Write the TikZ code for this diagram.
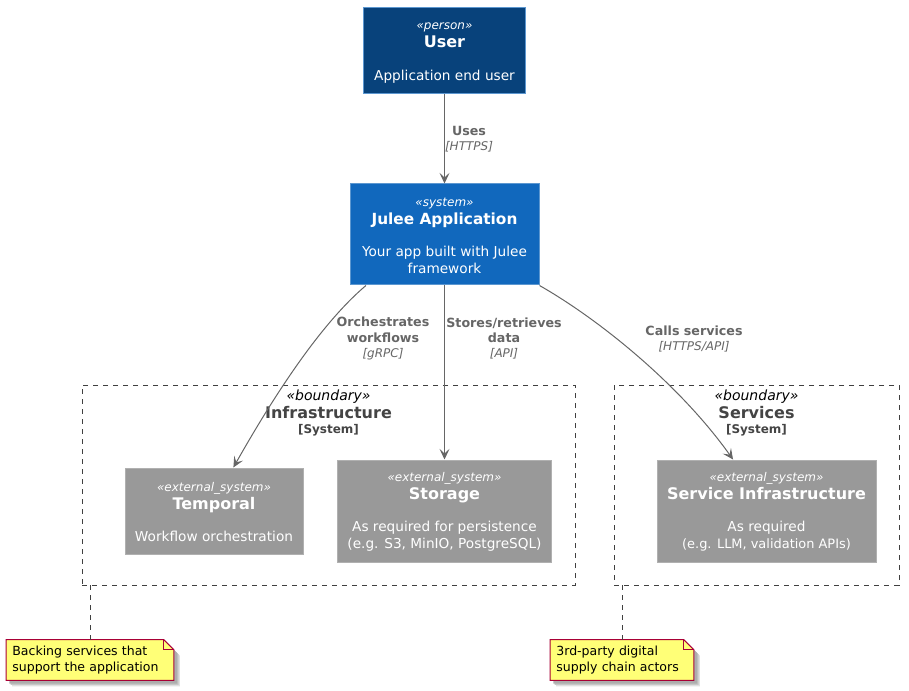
\documentclass[tikz,border=0pt]{standalone}
\usepackage{fontspec}
\setmainfont{DejaVu Sans}
\usetikzlibrary{arrows.meta,backgrounds}
\definecolor{personfill}{HTML}{08427B}
\definecolor{systemfill}{HTML}{1168BD}
\definecolor{boxedge}{HTML}{5C97D0}
\definecolor{extfill}{HTML}{999999}
\definecolor{extedge}{HTML}{B0B0B0}
\definecolor{relcolor}{HTML}{666666}
\definecolor{notefill}{HTML}{FFFF77}
\definecolor{noteedge}{HTML}{A80036}
\definecolor{titlecolor}{HTML}{444444}
\newcommand{\boxtext}[3]{\rule{0pt}{8pt}{\fontsize{9}{11}\selectfont\itshape «#1»}\\[1.25pt]{\fontsize{12}{14}\selectfont\bfseries #2}\\[12pt]#3}
\newcommand{\reltext}[2]{{\bfseries #1}\\{\fontsize{9}{10.5}\selectfont\itshape #2}}
\newcommand{\notepaper}[1]{
\begin{scope}[on background layer]
\foreach \blur/\shade in {4.5/12,3.5/22,2.5/32} {
\fill [black!\shade] ([shift={(\blur pt,-\blur pt)}]#1.north west) -- ([shift={(\blur pt-7.5pt,-\blur pt)}]#1.north east) -- ([shift={(\blur pt,-\blur pt-7.5pt)}]#1.north east) -- ([shift={(\blur pt,-\blur pt)}]#1.south east) -- ([shift={(\blur pt,-\blur pt)}]#1.south west) -- cycle;
}
\draw [noteline,fill=notefill] (#1.north west) -- ([xshift=-7.5pt]#1.north east) -- ([yshift=-7.5pt]#1.north east) -- (#1.south east) -- (#1.south west) -- cycle;
\draw [noteline] ([xshift=-7.5pt]#1.north east) -- ([shift={(-7.5pt,-7.5pt)}]#1.north east) -- ([yshift=-7.5pt]#1.north east);
\end{scope}
}
\tikzset{
  x=0.75pt,y=-0.75pt,
  >={Stealth[length=8pt,width=7.5pt,inset=3.5pt]},
  block/.style={draw,line width=0.75pt,text=white,align=center,inner sep=0pt,font=\fontsize{10.25}{12.25}\selectfont},
  personbox/.style={block,fill=personfill,draw=boxedge,minimum width=121.5pt,minimum height=64.5pt},
  systembox/.style={block,fill=systemfill,draw=boxedge,minimum width=141.75pt,minimum height=75.75pt},
  extbox/.style={block,fill=extfill,draw=extedge},
  boundary/.style={draw=black!75,line width=0.6pt,dash pattern=on 3.75pt off 3.75pt,minimum height=150pt},
  boundarytitle/.style={align=center,inner sep=0pt,text=titlecolor,anchor=north},
  rel/.style={draw=relcolor,line width=0.75pt},
  rellabel/.style={text=relcolor,align=center,inner sep=0pt,font=\fontsize{9.5}{11.5}\selectfont},
  noteline/.style={draw=noteedge,line width=0.75pt},
  notebox/.style={align=left,text width=#1,inner xsep=4.5pt,inner ysep=0pt,minimum height=30pt,font=\fontsize{9.4}{11.5}\selectfont},
  notelink/.style={draw=black!75,line width=0.6pt,dash pattern=on 3.75pt off 3.75pt}
}
\begin{document}
\begin{tikzpicture}
\useasboundingbox (0,0) rectangle (909,691);

\node [boundary,minimum width=369.75pt] (infra) at (328.5,485) {};
\node [boundary,minimum width=213.75pt] (services) at (756.5,485) {};
\node [boundarytitle] (infratitle) at (328.5,390) {{\fontsize{10.5}{12}\selectfont\itshape\color{black} «boundary»}\\[1pt]{\fontsize{12}{14}\selectfont\bfseries Infrastructure}\\[-0.5pt]{\fontsize{9}{11}\selectfont\bfseries [System]}};
\node [boundarytitle] (servicestitle) at (756.5,390) {{\fontsize{10.5}{12}\selectfont\itshape\color{black} «boundary»}\\[1pt]{\fontsize{12}{14}\selectfont\bfseries Services}\\[-0.5pt]{\fontsize{9}{11}\selectfont\bfseries [System]}};

\node [personbox] (user) at (444.5,51) {\boxtext{person}{User}{Application end user}};
\node [systembox] (julee) at (444.5,234.5) {\boxtext{system}{\fontsize{11.5}{14}\selectfont Julee Application}{Your app built with Julee\\framework}};
\node [extbox,minimum width=133.5pt,minimum height=64.5pt] (temporal) at (214,511) {\boxtext{external\_system}{Temporal}{Workflow orchestration}};
\node [extbox,minimum width=160.5pt,minimum height=76.5pt] (storage) at (444.5,511) {\boxtext{external\_system}{Storage}{As required for persistence\\(e.g. S3, MinIO, PostgreSQL)}};
\node [extbox,minimum width=164.25pt,minimum height=76.5pt] (serviceinfra) at (766.5,511) {\boxtext{external\_system}{Service Infrastructure}{As required\\{\fontsize{9.7}{12.25}\selectfont (e.g. LLM, validation APIs)}}};

\draw [->,rel] (user) -- (julee);
\draw [->,rel] (julee.-147) .. controls (325,320) and (280,385) .. (temporal.66);
\draw [->,rel] (julee) -- (storage);
\draw [->,rel] (julee.south east) .. controls (600,320) and (680,385) .. (serviceinfra.123);

\node [rellabel] (useslabel) at (469,139) {\reltext{Uses}{[HTTPS]}};
\node [rellabel] (orchlabel) at (383,338.5) {{\bfseries Orchestrates}\\{\bfseries workflows}\\{\fontsize{9}{10.5}\selectfont\itshape [gRPC]}};
\node [rellabel] (storeslabel) at (504,338.5) {{\bfseries Stores/retrieves}\\{\bfseries data}\\{\fontsize{9}{10.5}\selectfont\itshape [API]}};
\node [rellabel] (callslabel) at (694,339) {\reltext{Calls services}{[HTTPS/API]}};

\node [notebox=116.5pt] (infranote) at (90,660) {Backing services that\\support the application};
\notepaper{infranote}
\node [notebox=98.5pt] (servicesnote) at (622,660) {3rd-party digital\\supply chain actors};
\notepaper{servicesnote}
\draw [notelink] (infranote.north) -- (infranote.north |- infra.south);
\draw [notelink] (servicesnote.north) -- (servicesnote.north |- services.south);

\end{tikzpicture}
\end{document}
